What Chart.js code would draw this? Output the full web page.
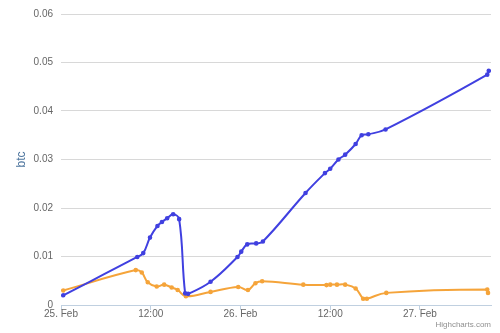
<!DOCTYPE html>
<html>
<head>
<meta charset="utf-8">
<script src="https://cdn.jsdelivr.net/npm/chart.js@4"></script>
<style>
  body { margin: 0; background: #fff; }
  #wrap { position: relative; width: 500px; height: 333px; }
  #credits { position: absolute; right: 9px; top: 320px; font: 8px "Liberation Sans", Arial, sans-serif; color: #909090; }
</style>
</head>
<body>
<div id="wrap">
  <canvas id="myChart" width="500" height="333"></canvas>
  <div id="credits">Highcharts.com</div>
</div>
<script>
// hours since 25. Feb 00:00
const blueHours = [0.3, 10.2, 11.0, 11.9, 12.9, 13.5, 14.2, 15.0, 15.8, 16.6, 17.0, 20.0, 23.6, 24.1, 24.9, 26.1, 27.0, 32.7, 35.3, 36.0, 37.1, 38.0, 39.4, 40.2, 41.1, 43.4, 57.0, 57.2];
const blueValues = [0.0020, 0.0099, 0.0107, 0.0139, 0.0163, 0.0171, 0.0179, 0.0187, 0.0177, 0.0024, 0.0023, 0.0048, 0.0099, 0.0110, 0.0125, 0.0127, 0.0131, 0.0231, 0.0272, 0.0281, 0.0300, 0.0310, 0.0332, 0.0350, 0.0352, 0.0362, 0.0475, 0.0483];

const orangeHours = [0.3, 10.0, 10.8, 11.6, 12.8, 13.8, 14.8, 15.6, 16.7, 20.0, 23.7, 25.0, 26.0, 26.9, 32.4, 35.5, 36.0, 36.9, 38.0, 39.4, 40.4, 40.9, 43.5, 57.0, 57.1];
const orangeValues = [0.0030, 0.0072, 0.0067, 0.0047, 0.0038, 0.0042, 0.0036, 0.0031, 0.0018, 0.0027, 0.0037, 0.0031, 0.0045, 0.0049, 0.0042, 0.0041, 0.0042, 0.0042, 0.0042, 0.0034, 0.0013, 0.0013, 0.0025, 0.0032, 0.0025];

const xTicks = [0, 12, 24, 36, 48];
const xTickLabels = ["25. Feb", "12:00", "26. Feb", "12:00", "27. Feb"];

function pts(xs, ys) {
    return xs.map((x, i) => ({ x: x, y: ys[i] }));
}

const font = { family: "'Liberation Sans', Arial, sans-serif", size: 10 };

new Chart(document.getElementById("myChart").getContext("2d"), {
    type: "line",
    data: {
        datasets: [{
            data: pts(blueHours, blueValues),
            borderColor: "#4040e0",
            backgroundColor: "#4040e0",
            borderWidth: 2,
            pointRadius: 1.3,
            tension: 0.4
        }, {
            data: pts(orangeHours, orangeValues),
            borderColor: "#f5a43a",
            backgroundColor: "#f5a43a",
            borderWidth: 2,
            pointRadius: 1.3,
            tension: 0.4
        }]
    },
    options: {
        responsive: false,
        animation: false,
        layout: { padding: { top: 7, right: 9, left: 0, bottom: 0 } },
        plugins: { legend: { display: false }, tooltip: { enabled: false } },
        scales: {
            x: {
                type: "linear",
                min: 0,
                max: 57.5,
                afterBuildTicks: s => { s.ticks = xTicks.map(v => ({ value: v })); },
                afterFit: s => { s.height = 28; },
                grid: { drawOnChartArea: false, drawTicks: true, tickLength: 5, color: "#c0d0e0" },
                border: { display: true, color: "#c0d0e0" },
                ticks: {
                    font: font,
                    color: "#666",
                    padding: -2,
                    maxRotation: 0,
                    callback: v => xTickLabels[xTicks.indexOf(v)]
                }
            },
            y: {
                min: 0,
                max: 0.06,
                afterFit: s => { s.width = 61; },
                grid: { color: "#d8d8d8", drawTicks: false },
                border: { display: false },
                ticks: {
                    stepSize: 0.01,
                    font: font,
                    color: "#666",
                    padding: 8,
                    callback: v => v === 0 ? "0" : v.toFixed(2)
                },
                title: {
                    display: true,
                    text: "btc",
                    color: "#4d759e",
                    font: { family: "'Liberation Sans', Arial, sans-serif", size: 12 },
                    padding: { top: 14, bottom: 0 }
                }
            }
        }
    }
});
</script>
</body>
</html>
